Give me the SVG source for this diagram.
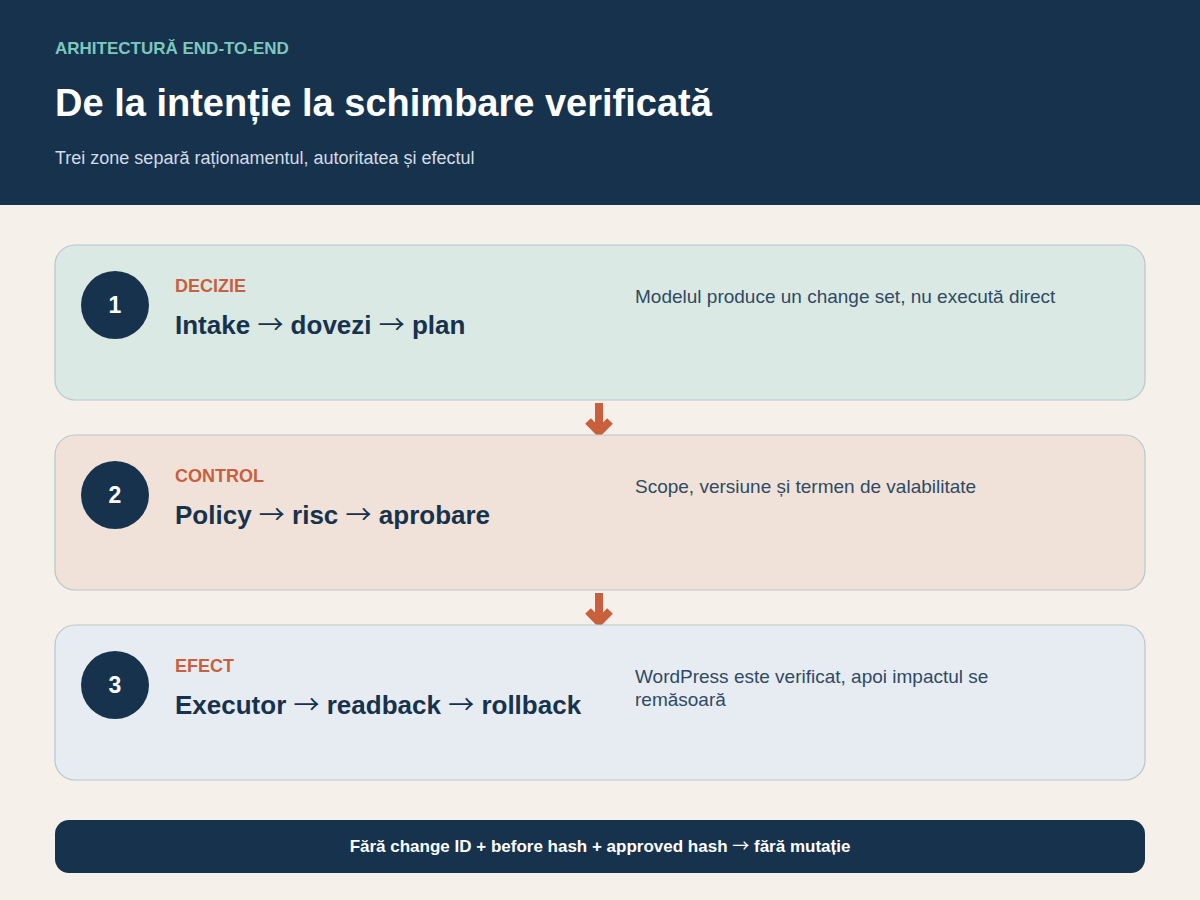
<svg xmlns="http://www.w3.org/2000/svg" width="1200" height="900" viewBox="0 0 1200 900">
<defs>
<style>
text{font-family:"Liberation Sans",Arial,sans-serif}
.card{stroke:#b8c7cc;stroke-width:1.2}
.num{fill:#fff;font-size:23px;font-weight:bold;text-anchor:middle}
.lab{fill:#c85f3e;font-size:18px;font-weight:bold}
.ttl{fill:#17324d;font-size:26px;font-weight:bold}
.desc{fill:#2f4a63;font-size:19px}
.ar{font-family:"Noto Sans CJK SC",sans-serif;font-weight:normal}
.arr{stroke:#c95f3d;stroke-width:8;fill:none}
</style>
</defs>
<rect width="1200" height="900" fill="#f5f0e9"/>
<g id="header">
<rect width="1200" height="205" fill="#17324d"/>
<text x="55" y="54" font-size="17" font-weight="bold" fill="#7cc8bd">ARHITECTURĂ END-TO-END</text>
<text x="55" y="116" font-size="38" font-weight="bold" fill="#ffffff">De la intenție la schimbare verificată</text>
<text x="55" y="164" font-size="18" fill="#d3dce5">Trei zone separă raționamentul, autoritatea și efectul</text>
</g>
<g id="connectors">
<path class="arr" d="M599 403V431M588 421L599 432L610 421"/>
<path class="arr" d="M599 593V621M588 611L599 622L610 611"/>
</g>
<g id="zone1">
<rect class="card" x="55" y="245" width="1090" height="155" rx="20" fill="#dbe9e4"/>
<circle cx="115" cy="305" r="34" fill="#17324d"/>
<text class="num" x="115" y="313">1</text>
<text class="lab" x="175" y="292">DECIZIE</text>
<text class="ttl" x="175" y="334">Intake <tspan class="ar">→</tspan> dovezi <tspan class="ar">→</tspan> plan</text>
<text class="desc" x="635" y="303">Modelul produce un change set, nu execută direct</text>
</g>
<g id="zone2">
<rect class="card" x="55" y="435" width="1090" height="155" rx="20" fill="#f0e2d8"/>
<circle cx="115" cy="495" r="34" fill="#17324d"/>
<text class="num" x="115" y="503">2</text>
<text class="lab" x="175" y="482">CONTROL</text>
<text class="ttl" x="175" y="524">Policy <tspan class="ar">→</tspan> risc <tspan class="ar">→</tspan> aprobare</text>
<text class="desc" x="635" y="493">Scope, versiune și termen de valabilitate</text>
</g>
<g id="zone3">
<rect class="card" x="55" y="625" width="1090" height="155" rx="20" fill="#e7ecf3"/>
<circle cx="115" cy="685" r="34" fill="#17324d"/>
<text class="num" x="115" y="693">3</text>
<text class="lab" x="175" y="672">EFECT</text>
<text class="ttl" x="175" y="714">Executor <tspan class="ar">→</tspan> readback <tspan class="ar">→</tspan> rollback</text>
<text class="desc" x="635" y="683">WordPress este verificat, apoi impactul se</text>
<text class="desc" x="635" y="706">remăsoară</text>
</g>
<g id="footer">
<rect x="55" y="820" width="1090" height="53" rx="14" fill="#17324d"/>
<text x="600" y="852" font-size="17" font-weight="bold" fill="#ffffff" text-anchor="middle">Fără change ID + before hash + approved hash <tspan class="ar">→</tspan> fără mutație</text>
</g>
</svg>
